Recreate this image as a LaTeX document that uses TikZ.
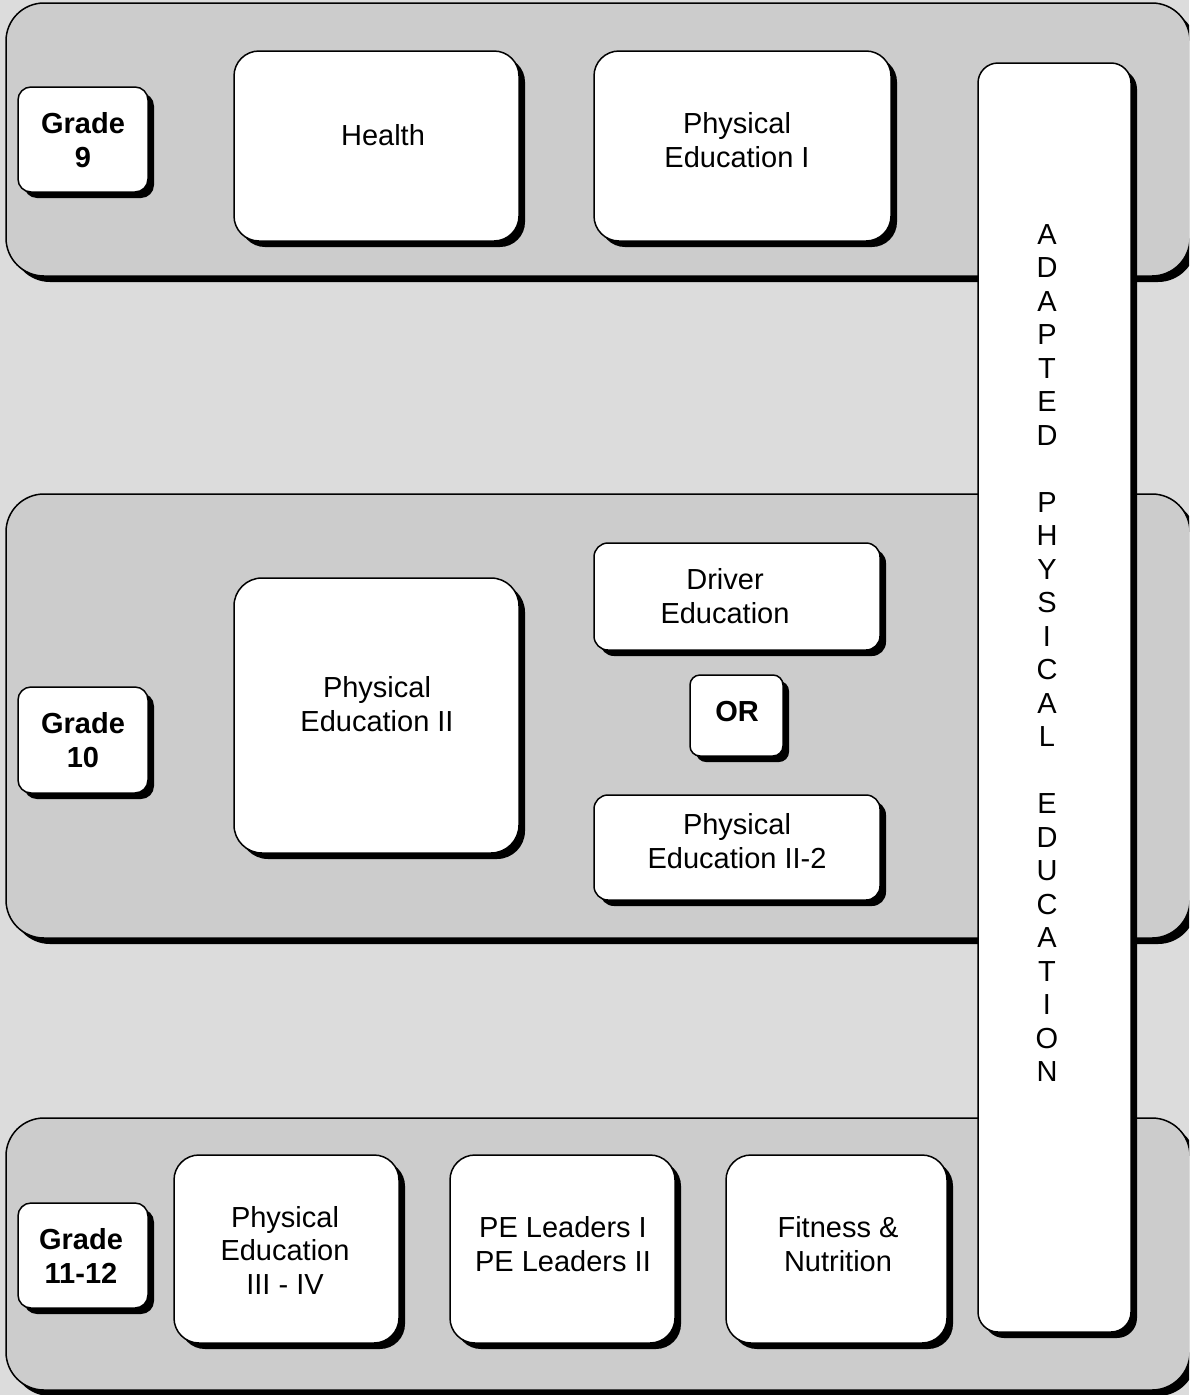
\documentclass[tikz,border=0pt]{standalone}
\usepackage{fontspec}
\setmainfont{Liberation Sans}
\usetikzlibrary{shadows}
\definecolor{bgray}{HTML}{DCDCDC}
\definecolor{pgray}{HTML}{CCCCCC}
\tikzset{
  shade6/.style={drop shadow={shadow xshift=6pt, shadow yshift=-6pt, fill=black, opacity=1}},
  panel/.style={draw=black, line width=1.5pt, fill=pgray, rounded corners=38pt, inner sep=0pt, outer sep=0pt, shade6},
  box/.style={draw=black, line width=1.5pt, fill=white, rounded corners=#1, inner sep=0pt, outer sep=0pt, shade6},
  txt/.style={align=center, inner sep=0pt, font=\fontsize{29}{33.5}\selectfont},
  btxt/.style={txt, font=\fontsize{29}{33.5}\selectfont\bfseries},
}
\begin{document}
\begin{tikzpicture}[x=1pt,y=-1pt]
\useasboundingbox (0,0) rectangle (1189,1395);
\fill[bgray] (0,0) rectangle (1189,1395);
\clip (0,0) rectangle (1189,1395);
% panels
\node[panel, minimum width=1184pt, minimum height=273pt] (p1) at (598,139.5) {};
\node[panel, minimum width=1184pt, minimum height=444pt] (p2) at (598,716) {};
\node[panel, minimum width=1184pt, minimum height=272pt] (p3) at (598,1254) {};
% grade 9 row
\node[box=13pt, minimum width=130pt, minimum height=105pt] (g9) at (83,139.5) {};
\node[btxt] (g9t) at (83,140) {Grade\\9};
\node[box=25pt, minimum width=285pt, minimum height=190pt] (health) at (376.5,146) {};
\node[txt] (healtht) at (383,135) {Health};
\node[box=25pt, minimum width=297pt, minimum height=190pt] (pe1) at (742.5,146) {};
\node[txt] (pe1t) at (737,140) {Physical\\Education I};
% grade 10 row
\node[box=13pt, minimum width=130pt, minimum height=106pt] (g10) at (83,740) {};
\node[btxt] (g10t) at (83,740) {Grade\\10};
\node[box=28pt, minimum width=285pt, minimum height=275pt] (pe2) at (376.5,715.5) {};
\node[txt] (pe2t) at (377,704) {Physical\\Education II};
\node[box=14pt, minimum width=286pt, minimum height=107pt] (drv) at (737,596.5) {};
\node[txt] (drvt) at (725,596) {Driver\\Education};
\node[box=10pt, minimum width=93pt, minimum height=81pt] (or) at (736.5,715.5) {};
\node[btxt] (ort) at (737,712) {OR};
\node[box=14pt, minimum width=286pt, minimum height=105pt] (pe22) at (737,847.5) {};
\node[txt] (pe22t) at (737,841) {Physical\\Education II-2};
% grade 11-12 row
\node[box=13pt, minimum width=130pt, minimum height=105pt] (g11) at (83,1255.5) {};
\node[btxt] (g11t) at (81,1256) {Grade\\11-12};
\node[box=25pt, minimum width=225pt, minimum height=188pt] (pe3) at (286.5,1249) {};
\node[txt] (pe3t) at (285,1250) {Physical\\Education\\III - IV};
\node[box=25pt, minimum width=225pt, minimum height=188pt] (lead) at (562.5,1249) {};
\node[txt] (leadt) at (563,1244) {PE Leaders I\\PE Leaders II};
\node[box=25pt, minimum width=221pt, minimum height=188pt] (fit) at (836.5,1249) {};
\node[txt] (fitt) at (838,1244) {Fitness \&\\Nutrition};
% adapted PE column
\node[box=20pt, minimum width=153pt, minimum height=1269pt] (ape) at (1054.5,697.5) {};
\node[txt] (apet) at (1047,653) {A\\D\\A\\P\\T\\E\\D\\[33.5pt]P\\H\\Y\\S\\I\\C\\A\\L\\[33.5pt]E\\D\\U\\C\\A\\T\\I\\O\\N};
\end{tikzpicture}
\end{document}
